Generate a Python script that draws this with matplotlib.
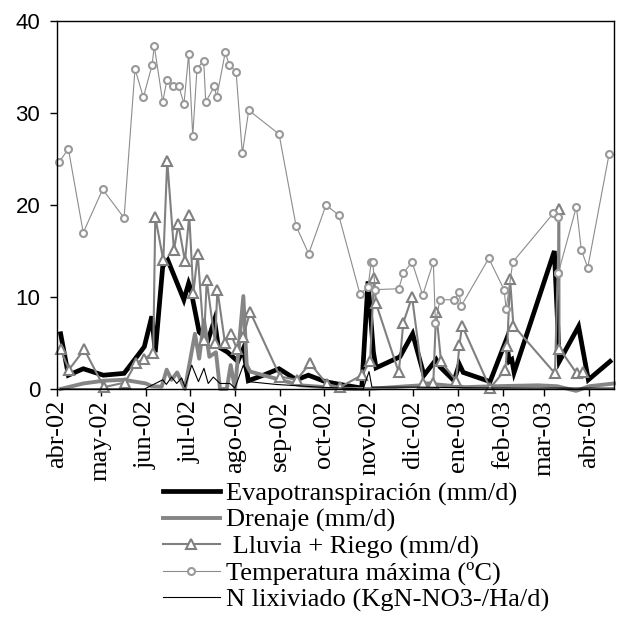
import numpy as np
import pandas as pd
import matplotlib
matplotlib.use('Agg')
import matplotlib.pyplot as plt

base = pd.Timestamp('2002-04-01')

# Evapotranspiracion (mm/d)
evap_days = [2.5, 7.8, 18, 31.8, 46, 54.7, 59.9, 65, 67.4, 72.5, 76, 87, 90.3, 91.5, 97.5, 103.6,
             108, 110.6, 117, 124, 127.8, 131.2, 141.5, 152.3, 164.3, 172.4, 184, 194, 209, 213.3,
             217, 218.8, 235.2, 243.9, 251.7, 260, 262.7, 272.3, 275.9, 278.6, 297, 308, 310.2,
             311.9, 313.5, 341.1, 344.5, 357.7, 364.4, 379.3]
evap_vals = [6.0, 1.5, 2.2, 1.5, 1.7, 3.5, 4.6, 7.9, 4.0, 13.3, 14.0, 9.7, 11.5, 11.0, 6.2, 5.3,
             7.5, 4.6, 4.0, 3.0, 4.4, 0.9, 1.5, 2.2, 1.0, 1.5, 0.8, 0.5, 0.1, 11.7,
             4.0, 2.3, 3.5, 6.0, 1.5, 3.2, 2.4, 0.9, 2.7, 1.8, 0.8, 5.3, 3.0,
             3.2, 1.8, 15.0, 3.0, 6.8, 1.0, 3.0]

# Drenaje (mm/d)
dren_days = [2.5, 18, 32, 46, 61, 65, 71.8, 75.2, 78.6, 82.4, 87.7, 94.6, 97.5, 100.8, 104.5,
             109, 111.8, 116.4, 119.1, 122.1, 127.8, 130.1, 132.4, 153, 166.7, 184, 200, 213,
             240, 260, 280, 300, 330, 343, 356, 365, 382]
dren_vals = [0.0, 0.6, 0.9, 1.0, 0.6, 0.3, 0.25, 2.1, 1.0, 1.8, 0.0, 6.0, 3.3, 7.5, 3.5,
             4.0, 0.0, 0.0, 2.6, 0.0, 10.1, 2.6, 1.9, 1.0, 0.4, 0.2, 0.0, 0.0,
             0.3, 0.5, 0.2, 0.3, 0.4, 0.3, -0.2, 0.3, 0.6]

# Lluvia + Riego (mm/d)
rain_days = [2.5, 8.2, 18.7, 32.2, 46.6, 54, 59.9, 66, 67.4, 72.9, 75.6, 80.2, 83.2, 87.8, 90.7,
             93.5, 96.5, 100.8, 102.7, 108.4, 110, 115.2, 119.1, 123.3, 127.8, 132.4, 153, 164.4,
             173.5, 185, 194.1, 209, 214.7, 217.4, 218.8, 234.4, 237.5, 243.5, 251.2, 258.1, 260,
             263.4, 273.7, 276, 277.8, 297, 307.5, 308.8, 310.7, 313, 341.5, 344.5, 344.6, 356.4,
             360.6]
rain_vals = [4.3, 2.1, 4.3, 0.2, 0.7, 2.8, 3.3, 3.9, 18.7, 14.0, 24.8, 15.1, 17.9, 13.9, 18.9,
             10.4, 14.7, 5.3, 11.8, 5.0, 10.8, 5.0, 6.0, 4.4, 5.7, 8.4, 1.35, 1.0,
             2.8, 0.55, 0.2, 1.5, 3.0, 12.1, 9.3, 1.8, 7.2, 10.0, 0.7, 0.7, 8.4,
             3.0, 0.9, 4.75, 6.9, 0.1, 2.1, 4.7, 12.0, 6.9, 1.7, 19.6, 4.4, 1.7,
             1.9]

# Temperatura maxima (C)
temp_days = [1.6, 7.8, 18, 31.3, 46, 53.5, 59.2, 65.2, 66.7, 72.5, 75.4, 79.4, 83.5, 87.1, 90.3,
             93.1, 96, 100.6, 102, 107.9, 109.5, 115.4, 118.2, 122.8, 127.1, 131.5, 152.3, 164,
             172.6, 184.5, 193.2, 207.8, 213.3, 215.5, 216.5, 218.3, 234.4, 237.5, 243.5, 250.8,
             258.1, 259.5, 262.7, 272.5, 275.7, 277.1, 296.1, 306.6, 308, 312.6, 340.4, 343.4,
             343.6, 343.8, 356.2, 359.6, 364, 378.6]
temp_vals = [24.7, 26.1, 17.0, 21.7, 18.6, 34.8, 31.7, 35.2, 37.3, 31.2, 33.6, 32.9, 32.9, 31.0, 36.4,
             27.5, 34.8, 35.7, 31.2, 32.9, 31.7, 36.6, 35.2, 34.5, 25.6, 30.3, 27.7, 17.7,
             14.7, 20.0, 18.9, 10.3, 11.1, 13.8, 13.8, 10.8, 10.9, 12.6, 13.8, 10.2,
             13.8, 7.2, 9.7, 9.7, 10.5, 9.0, 14.2, 10.8, 8.7, 13.8, 19.1, 18.7,
             12.6, 12.6, 19.8, 15.1, 13.2, 25.5]

# N lixiviado (KgN-NO3-/Ha/d)
nlix_days = [2.5, 60, 65, 72.5, 75, 78.6, 82.1, 85.5, 87.8, 92.4, 97, 100.8, 103.7, 107.2, 111.8,
             118.6, 122, 127.8, 131.2, 150, 180, 210, 214, 216, 250, 300, 382]
nlix_vals = [0.0, 0.0, 0.4, 1.0, 0.5, 1.3, 0.6, 1.2, 0.2, 2.6, 0.8, 2.25, 0.6, 1.3, 0.6,
             0.6, 0.1, 2.6, 0.8, 0.5, 0.2, 0.0, 1.9, 0.2, 0.2, 0.1, 0.1]

month_labels = ['abr-02', 'may-02', 'jun-02', 'jul-02', 'ago-02', 'sep-02', 'oct-02',
                'nov-02', 'dic-02', 'ene-03', 'feb-03', 'mar-03', 'abr-03']


def to_dates(days):
    return base + pd.to_timedelta(np.array(days), unit='D')


serif = ['Liberation Serif', 'DejaVu Serif']
sans = ['Liberation Sans', 'DejaVu Sans']

fig = plt.figure(figsize=(6.18, 6.25), dpi=100)
ax = fig.add_axes([57/618, 1-389/625, (614-57)/618, (389-21)/625])

ax.plot(to_dates(evap_days), evap_vals, color='black', lw=3.4, clip_on=False,
        label='Evapotranspiración (mm/d)', solid_joinstyle='miter')
ax.plot(to_dates(dren_days), dren_vals, color='#858585', lw=2.8, clip_on=False,
        label='Drenaje (mm/d)')
ax.plot(to_dates(rain_days), rain_vals, color='#808080', lw=1.5, marker='^', ms=6.5,
        mfc='white', mec='#808080', mew=1.5, clip_on=False, label=' Lluvia + Riego (mm/d)')
ax.plot(to_dates(temp_days), temp_vals, color='#8c8c8c', lw=0.8, marker='o', ms=5,
        mfc='white', mec='#999999', mew=1.5, clip_on=False, label='Temperatura máxima (ºC)')
ax.plot(to_dates(nlix_days), nlix_vals, color='black', lw=0.8, clip_on=False,
        label='N lixiviado (KgN-NO3-/Ha/d)')

ax.set_ylim(0, 40)
ax.set_yticks([0, 10, 20, 30, 40])
ax.set_xlim(base, base + pd.Timedelta(days=382))
ticks = pd.date_range('2002-04-01', '2003-04-01', freq='MS')
ax.set_xticks(ticks)
ax.set_xticklabels(month_labels, rotation=90, family=serif, fontsize=19)
for lab in ax.get_yticklabels():
    lab.set_family(sans)
    lab.set_fontsize(16)
ax.tick_params(direction='out', length=5, width=1, color='black')
ax.tick_params(axis='x', pad=3)
ax.tick_params(axis='y', pad=7)
for s in ax.spines.values():
    s.set_linewidth(1.0)
    s.set_color('black')

fig.legend(loc='upper left', bbox_to_anchor=(163/618, 1-482/625), frameon=False,
           prop={'family': serif, 'size': 19}, handlelength=2.15, handletextpad=0.25,
           labelspacing=0.1, borderaxespad=0, borderpad=0)

fig.savefig('out.png', dpi=100, facecolor='white')
